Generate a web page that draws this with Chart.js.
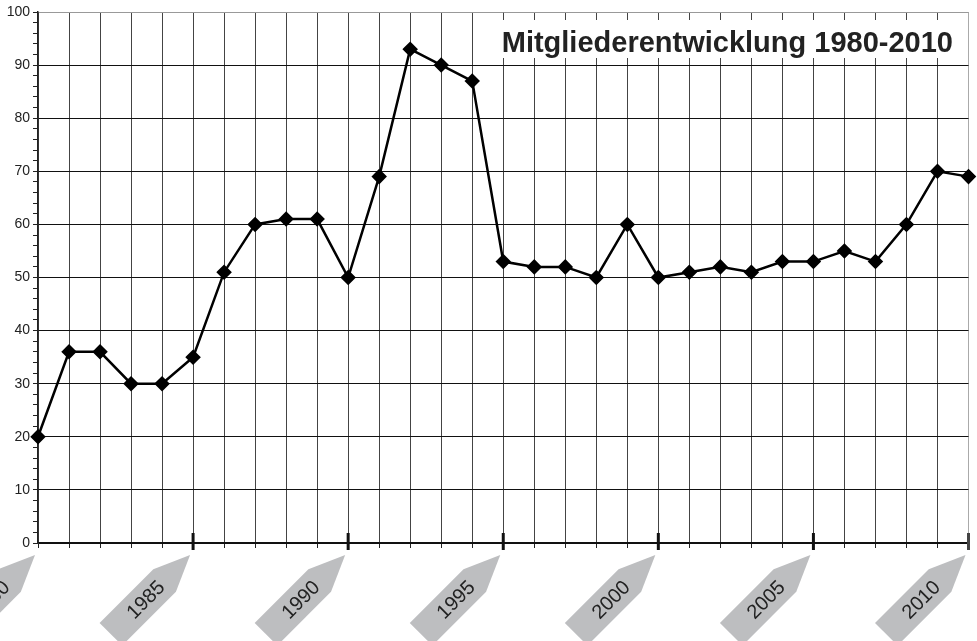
<!DOCTYPE html>
<html>
<head>
<meta charset="utf-8">
<script src="https://cdn.jsdelivr.net/npm/chart.js@4/dist/chart.umd.min.js"></script>
<style>
  html, body { margin: 0; padding: 0; background: #fff; }
  #wrap { width: 977px; height: 641px; }
</style>
</head>
<body>
<div id="wrap"><canvas id="main-chart" width="977" height="641"></canvas></div>
<script>
// Mitglieder pro Jahr
const years = ['1980', '1981', '1982', '1983', '1984', '1985', '1986', '1987', '1988', '1989',
  '1990', '1991', '1992', '1993', '1994', '1995', '1996', '1997', '1998', '1999',
  '2000', '2001', '2002', '2003', '2004', '2005', '2006', '2007', '2008', '2009', '2010'];
const members = [20, 36, 36, 30, 30, 35, 51, 60, 61, 61,
  50, 69, 93, 90, 87, 53, 52, 52, 50, 60,
  50, 51, 52, 51, 53, 53, 55, 53, 60, 70, 69];
const labelYears = ['1980', '1985', '1990', '1995', '2000', '2005', '2010'];
const titleText = 'Mitgliederentwicklung 1980-2010';

// title box in the upper right of the plot
const titleBox = {
  id: 'titleBox',
  beforeDatasetsDraw(chart) {
    const c = chart.ctx;
    const area = chart.chartArea;
    c.save();
    c.fillStyle = '#fff';
    c.fillRect(480, area.top + 8, area.right - 484, 38);
    c.fillStyle = '#222';
    c.font = 'bold 29px "Liberation Sans", Arial, sans-serif';
    c.textAlign = 'right';
    c.textBaseline = 'alphabetic';
    c.fillText(titleText, 953, area.top + 40);
    c.restore();
  }
};

// thick ticks + grey arrow labels under the x axis
const arrowLabels = {
  id: 'arrowLabels',
  afterDraw(chart) {
    const c = chart.ctx;
    const xs = chart.scales.x;
    const base = chart.scales.y.getPixelForValue(0);
    labelYears.forEach((yr, i) => {
      const px = xs.getPixelForValue(years.indexOf(yr));
      if (i > 0) {
        c.save();
        c.strokeStyle = i === labelYears.length - 1 ? '#444' : '#111';
        c.lineWidth = 3;
        c.beginPath();
        c.moveTo(px, base - 10);
        c.lineTo(px, base + 7);
        c.stroke();
        c.restore();
      }
      c.save();
      c.translate(px - 3, base + 12);
      c.rotate(-Math.PI / 4);
      c.fillStyle = '#bdbec0';
      c.beginPath();
      c.moveTo(0, 0);
      c.lineTo(-36, -16);
      c.lineTo(-112, -16);
      c.lineTo(-112, 16);
      c.lineTo(-36, 16);
      c.closePath();
      c.fill();
      c.fillStyle = '#222';
      c.font = '20px "Liberation Sans", Arial, sans-serif';
      c.textAlign = 'center';
      c.textBaseline = 'middle';
      c.fillText(yr, -63, 1);
      c.restore();
    });
  }
};

const mainChart = new Chart(document.getElementById('main-chart'), {
  type: 'line',
  data: {
    labels: years,
    datasets: [{
      label: 'Mitglieder',
      data: members,
      borderColor: '#000',
      backgroundColor: '#000',
      borderWidth: 2.5,
      pointStyle: 'rectRot',
      pointRadius: 6,
      pointBackgroundColor: '#000',
      pointBorderColor: '#000',
      tension: 0
    }]
  },
  options: {
    responsive: false,
    animation: false,
    layout: {
      padding: { top: 12, right: 8, left: 0, bottom: 0 }
    },
    plugins: {
      legend: { display: false },
      tooltip: { enabled: false }
    },
    scales: {
      x: {
        offset: false,
        afterFit: (scale) => { scale.height = 98; },
        border: { color: '#111', width: 1.5 },
        grid: {
          color: (ctx) => ctx.index === years.length - 1 ? '#aaa' : '#444',
          tickColor: '#222',
          tickLength: 5,
          lineWidth: 1
        },
        ticks: { display: false, autoSkip: false }
      },
      y: {
        min: 0,
        max: 100,
        afterFit: (scale) => { scale.width = 38; },
        border: { color: '#222', width: 1.5 },
        grid: {
          color: (ctx) => {
            const v = ctx.tick.value;
            if (v % 10 !== 0) return 'rgba(0,0,0,0)';
            if (v === 100) return '#999';
            return '#111';
          },
          tickColor: '#222',
          tickLength: 5,
          lineWidth: 1
        },
        ticks: {
          stepSize: 2,
          autoSkip: false,
          padding: 3,
          color: '#222',
          font: { family: '"Liberation Sans", Arial, sans-serif', size: 14 },
          callback: (v) => (v % 10 === 0 ? v : '')
        }
      }
    }
  },
  plugins: [titleBox, arrowLabels]
});
</script>
</body>
</html>
